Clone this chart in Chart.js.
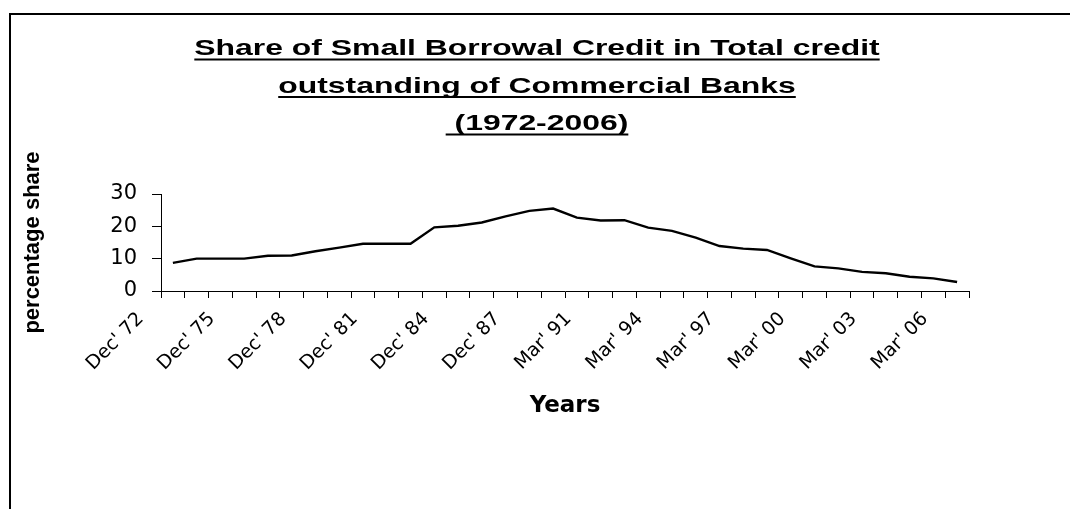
<!DOCTYPE html>
<html>
<head>
<meta charset="utf-8">
<script src="https://cdn.jsdelivr.net/npm/chart.js@4.4.0/dist/chart.umd.min.js"></script>
<style>
  html, body { margin: 0; padding: 0; background: #fff; }
  canvas { display: block; }
</style>
</head>
<body>
<canvas id="shareChart" width="1070" height="509"></canvas>
<script>
// categories: Dec 72 .. Dec 88, then Mar 90 .. Mar 06
const periods = [
  "Dec' 72", "Dec' 73", "Dec' 74", "Dec' 75", "Dec' 76", "Dec' 77", "Dec' 78", "Dec' 79",
  "Dec' 80", "Dec' 81", "Dec' 82", "Dec' 83", "Dec' 84", "Dec' 85", "Dec' 86", "Dec' 87",
  "Dec' 88", "Mar' 90", "Mar' 91", "Mar' 92", "Mar' 93", "Mar' 94", "Mar' 95", "Mar' 96",
  "Mar' 97", "Mar' 98", "Mar' 99", "Mar' 00", "Mar' 01", "Mar' 02", "Mar' 03", "Mar' 04",
  "Mar' 05", "Mar' 06"
];
const sharePct = [
  8.7, 10.0, 10.0, 10.0, 10.9, 11.0, 12.3, 13.4, 14.6, 14.6,
  14.6, 19.7, 20.2, 21.2, 23.1, 24.8, 25.5, 22.7, 21.8, 21.9,
  19.6, 18.6, 16.5, 13.9, 13.1, 12.7, 10.1, 7.6, 7.0, 5.9,
  5.5, 4.4, 3.9, 2.8
];
const yTicks = [0, 10, 20, 30];
const labelEvery = 3;
const titleLines = [
  'Share of Small Borrowal Credit in Total credit',
  'outstanding of Commercial Banks',
  ' (1972-2006)'
];

// white page, the box round the chart and the underlined title
const pagePlugin = {
  id: 'page',
  beforeDraw(chart) {
    const ctx = chart.ctx;
    ctx.save();
    ctx.fillStyle = '#fff';
    ctx.fillRect(0, 0, chart.width, chart.height);
    ctx.restore();
  },
  afterDraw(chart) {
    const ctx = chart.ctx;
    ctx.save();
    ctx.strokeStyle = '#000';
    ctx.lineWidth = 2;
    ctx.beginPath();
    ctx.moveTo(10, chart.height);
    ctx.lineTo(10, 14);
    ctx.lineTo(chart.width, 14);
    ctx.stroke();

    ctx.fillStyle = '#000';
    ctx.font = 'bold 22px "Liberation Sans", Arial, sans-serif';
    ctx.textAlign = 'center';
    ctx.textBaseline = 'alphabetic';
    const cx = 537, stretch = 1.45;
    titleLines.forEach((line, i) => {
      const y = 55 + i * 37.5;
      ctx.save();
      ctx.translate(cx, y);
      ctx.scale(stretch, 1);
      ctx.fillText(line, 0, 0);
      const w = ctx.measureText(line).width;
      ctx.lineWidth = 2.2;
      ctx.beginPath();
      ctx.moveTo(-w / 2, 4.5);
      ctx.lineTo(w / 2, 4.5);
      ctx.stroke();
      ctx.restore();
    });
    ctx.restore();
  }
};

new Chart(document.getElementById('shareChart'), {
  type: 'line',
  data: {
    labels: periods,
    datasets: [{
      data: sharePct,
      borderColor: '#000',
      borderWidth: 2.4,
      pointRadius: 0,
      tension: 0,
      fill: false
    }]
  },
  options: {
    responsive: false,
    animation: false,
    devicePixelRatio: 1,
    layout: { padding: { top: 194, right: 101, bottom: 0, left: 0 } },
    plugins: {
      legend: { display: false },
      tooltip: { enabled: false },
      title: { display: false }
    },
    scales: {
      x: {
        offset: true,
        grid: { offset: true, drawOnChartArea: false, drawTicks: true, tickLength: 7, color: '#000' },
        border: { display: true, color: '#000', width: 1 },
        ticks: {
          autoSkip: false,
          maxRotation: 45,
          minRotation: 45,
          labelOffset: -32,
          padding: 10,
          color: '#000',
          font: { family: '"DejaVu Sans", sans-serif', size: 19 },
          callback: (v, i) => (i % labelEvery === 0 ? periods[i] : '')
        },
        title: {
          display: true,
          text: 'Years',
          color: '#000',
          font: { family: '"DejaVu Sans", sans-serif', size: 23, weight: 'bold' },
          padding: { top: 0, bottom: 89 }
        },
        afterFit: (scale) => { scale.height = 218; }
      },
      y: {
        min: 0,
        max: 30,
        afterBuildTicks: (axis) => { axis.ticks = yTicks.map(v => ({ value: v })); },
        grid: { drawOnChartArea: false, drawTicks: true, tickLength: 9, color: '#000' },
        border: { display: true, color: '#000', width: 1 },
        ticks: {
          padding: 15,
          color: '#000',
          font: { family: '"DejaVu Sans", sans-serif', size: 21 }
        },
        title: {
          display: true,
          text: 'percentage share',
          color: '#000',
          font: { family: '"Liberation Sans", Arial, sans-serif', size: 22, weight: 'bold' },
          padding: { top: 20, bottom: 0 }
        },
        afterFit: (scale) => { scale.width = 161; }
      }
    }
  },
  plugins: [pagePlugin]
});
</script>
</body>
</html>
